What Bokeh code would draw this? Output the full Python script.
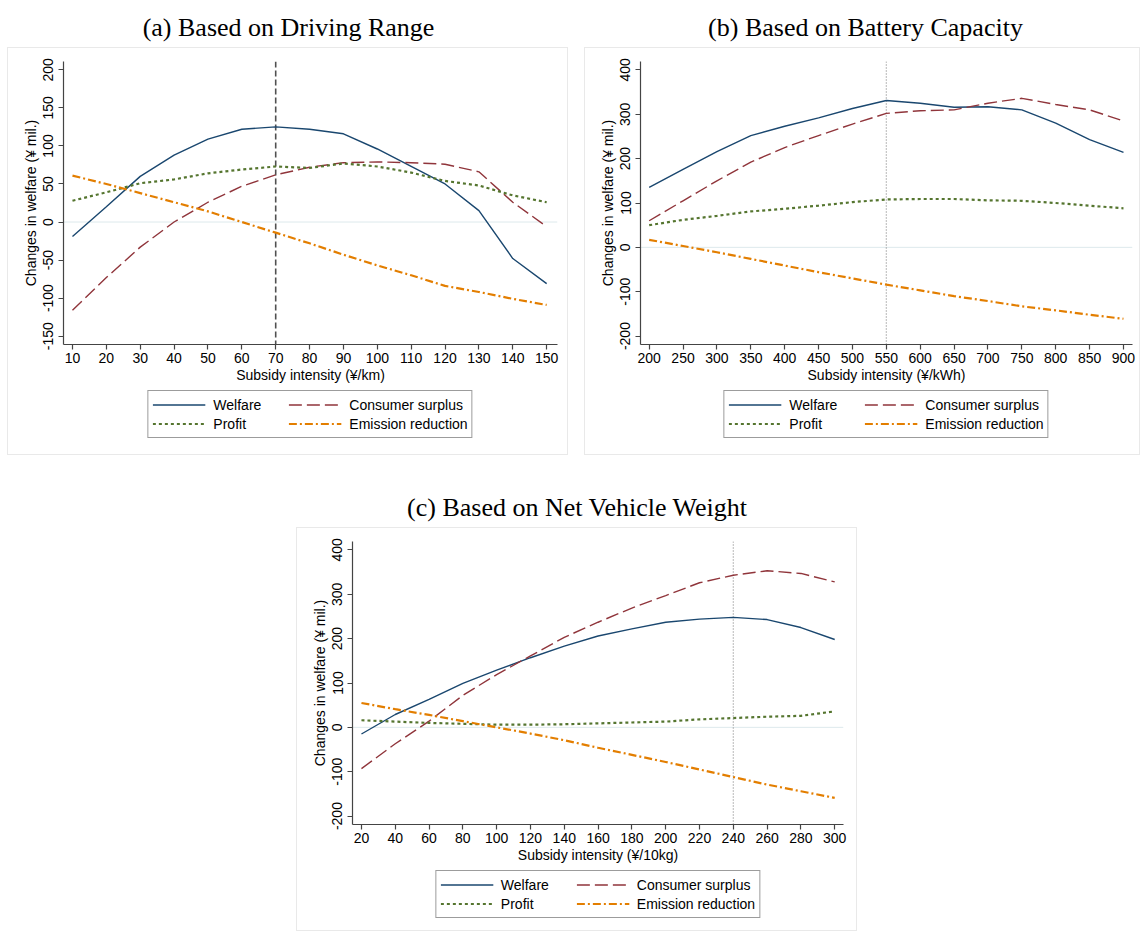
from bokeh.plotting import figure
from bokeh.models import Range1d, FixedTicker, Span, Legend, LegendItem, Spacer, ColumnDataSource
from bokeh.layouts import row, column
from bokeh.core.properties import value
from bokeh.embed import file_html
from bokeh.resources import INLINE

series_names = ["Welfare", "Consumer surplus", "Profit", "Emission reduction"]
titles = ["(a) Based on Driving Range", "(b) Based on Battery Capacity", "(c) Based on Net Vehicle Weight"]
x_labels = ["Subsidy intensity (¥/km)", "Subsidy intensity (¥/kWh)", "Subsidy intensity (¥/10kg)"]
y_label = "Changes in welfare (¥ mil.)"

# Panel (a): driving range
a_x = [10, 20, 30, 40, 50, 60, 70, 80, 90, 100, 110, 120, 130, 140, 150]
a_welfare = [-19, 20, 60, 88, 109, 122, 125, 122, 116, 96, 73, 50, 15, -48, -81]
a_consumer = [-116, -73, -33, 0, 26, 47, 62, 72, 78, 79, 78, 76, 66, 26, -6]
a_profit = [28, 39, 51, 56, 64, 69, 73, 71, 77, 73, 65, 54, 48, 35, 26]
a_emission = [61, 50, 38, 26, 14, 0, -14, -28, -43, -57, -70, -84, -92, -101, -109]
a_optimum = 70

# Panel (b): battery capacity
b_x = [200, 250, 300, 350, 400, 450, 500, 550, 600, 650, 700, 750, 800, 850, 900]
b_welfare = [135, 176, 216, 252, 273, 292, 313, 331, 325, 316, 317, 310, 280, 243, 214]
b_consumer = [60, 105, 150, 192, 225, 252, 278, 302, 308, 310, 325, 336, 322, 310, 285]
b_profit = [50, 62, 71, 81, 87, 94, 102, 108, 109, 109, 106, 105, 100, 94, 88]
b_emission = [17, 3, -11, -26, -41, -56, -70, -84, -97, -110, -121, -133, -142, -152, -161]
b_optimum = 550

# Panel (c): net vehicle weight
c_x = [20, 40, 60, 80, 100, 120, 140, 160, 180, 200, 220, 240, 260, 280, 300]
c_welfare = [-15, 29, 63, 99, 129, 157, 183, 206, 222, 237, 244, 248, 243, 225, 198]
c_consumer = [-93, -37, 14, 72, 119, 161, 203, 237, 269, 297, 326, 343, 353, 347, 328]
c_profit = [16, 13, 10, 8, 6, 6, 7, 9, 11, 13, 18, 21, 24, 26, 36]
c_emission = [55, 41, 28, 14, 0, -14, -29, -46, -62, -78, -95, -112, -129, -144, -159]
c_optimum = 240

a_xticks = list(range(10, 151, 10))
a_yticks = [-150, -100, -50, 0, 50, 100, 150, 200]
b_xticks = list(range(200, 901, 50))
b_yticks = [-200, -100, 0, 100, 200, 300, 400]
c_xticks = list(range(20, 301, 20))
c_yticks = [-200, -100, 0, 100, 200, 300, 400]

COLORS = ["#1a476f", "#90353b", "#55752f", "#e37e00"]
DASHES = ["solid", "13 5", "3 3", "8 3 2 3"]
WIDTHS = [1.4, 1.4, 2.2, 2.2]
KEYS = ["w", "cs", "pr", "em"]
SANS = "Liberation Sans"
AXC = "#444444"


def panel(xs, series, xr, yr, xticks, yticks, xlabel, vline, vdash, vcolor, vwidth,
          fw, bl, br, box_h):
    src = ColumnDataSource(dict(x=xs, w=series[0], cs=series[1], pr=series[2], em=series[3]))

    top_h = 14 + 283 + 42
    p = figure(frame_width=fw, frame_height=283, x_range=Range1d(*xr), y_range=Range1d(*yr),
               output_backend="svg", toolbar_location=None,
               min_border_left=bl, min_border_right=br, min_border_top=14, min_border_bottom=42)
    p.border_fill_color = None
    p.background_fill_color = "white"
    p.outline_line_color = None
    p.xgrid.visible = False
    p.ygrid.visible = False

    p.add_layout(Span(location=0, dimension="width", line_color="#dde9ec", line_width=1, level="underlay"))
    p.add_layout(Span(location=vline, dimension="height", line_color=vcolor, line_width=vwidth,
                      line_dash=vdash, level="underlay"))

    for i, key in enumerate(KEYS):
        p.line("x", key, source=src, line_color=COLORS[i], line_width=WIDTHS[i], line_dash=DASHES[i])

    for ax in (p.xaxis[0], p.yaxis[0]):
        ax.axis_line_color = AXC
        ax.axis_line_width = 1.2
        ax.major_tick_line_color = AXC
        ax.major_tick_line_width = 1.2
        ax.major_tick_out = 5
        ax.major_tick_in = 0
        ax.minor_tick_line_color = None
        ax.major_label_text_font = SANS
        ax.major_label_text_font_size = "14px"
        ax.major_label_text_color = "black"
        ax.axis_label_text_font = SANS
        ax.axis_label_text_font_size = "14px"
        ax.axis_label_text_font_style = "normal"
        ax.axis_label_text_color = "black"
    p.xaxis.ticker = FixedTicker(ticks=xticks)
    p.yaxis.ticker = FixedTicker(ticks=yticks)
    p.yaxis.major_label_overrides = {t: str(t) for t in yticks}
    p.xaxis.axis_label = xlabel
    p.yaxis.axis_label = y_label
    p.yaxis.major_label_orientation = "vertical"
    p.xaxis.major_label_standoff = 3
    p.xaxis.axis_label_standoff = 1
    p.yaxis.major_label_standoff = 5
    p.yaxis.axis_label_standoff = 2

    # legend strip below the plot (same frame alignment)
    lh = box_h - top_h
    lg = figure(frame_width=fw, frame_height=lh, x_range=Range1d(0, 1), y_range=Range1d(0, 1),
                output_backend="svg", toolbar_location=None, x_axis_type=None, y_axis_type=None,
                min_border_left=bl, min_border_right=br, min_border_top=0, min_border_bottom=0)
    lg.border_fill_color = None
    lg.background_fill_color = None
    lg.outline_line_color = None
    lg.xgrid.visible = False
    lg.ygrid.visible = False
    items = []
    for i, key in enumerate(KEYS):
        r = lg.line("x", key, source=src, line_color=COLORS[i], line_width=WIDTHS[i], line_dash=DASHES[i])
        items.append(LegendItem(label=series_names[i], renderers=[r]))
    leg = Legend(items=items, ncols=2, orientation="horizontal", location="top_center")
    leg.label_text_font = SANS
    leg.label_text_font_size = "14px"
    leg.label_text_color = "black"
    leg.glyph_width = 53
    leg.glyph_height = 19
    leg.label_height = 19
    leg.label_width = 75
    leg.label_standoff = 8
    leg.spacing = 0
    leg.padding = 4
    leg.margin = 4
    leg.border_line_color = "#3a3a3a"
    leg.border_line_width = 1.3
    leg.background_fill_color = "white"
    leg.background_fill_alpha = 1
    lg.add_layout(leg, "center")

    box = column(p, lg, styles={"box-shadow": "inset 0 0 0 1px #e9e9e9"})
    return box


def title_fig(height, xs, texts, baseline_from_top):
    t = figure(width=1140, height=height, x_range=Range1d(0, 1140), y_range=Range1d(0, height),
               output_backend="svg", toolbar_location=None, x_axis_type=None, y_axis_type=None,
               min_border=0)
    t.min_border_left = t.min_border_right = t.min_border_top = t.min_border_bottom = 0
    t.outline_line_color = None
    t.border_fill_color = None
    t.background_fill_color = None
    t.xgrid.visible = False
    t.ygrid.visible = False
    t.text(x=xs, y=[height - baseline_from_top] * len(xs), text=texts,
           text_font=value("Liberation Serif"), text_font_size="26px", text_color="black",
           text_align="center", text_baseline="alphabetic")
    return t


fa = panel(a_x, [a_welfare, a_consumer, a_profit, a_emission], (7.35, 153.2), (-161, 211),
           a_xticks, a_yticks, x_labels[0], a_optimum, "6 3", "#505050", 1.6,
           494, 56, 11, 408)
fb = panel(b_x, [b_welfare, b_consumer, b_profit, b_emission], (187.2, 913.3), (-219, 419),
           b_xticks, b_yticks, x_labels[1], b_optimum, "1 2", "#8a8a8a", 1.2,
           492, 56, 8, 408)
fc = panel(c_x, [c_welfare, c_consumer, c_profit, c_emission], (14.7, 305.2), (-219, 419),
           c_xticks, c_yticks, x_labels[2], c_optimum, "1 2", "#8a8a8a", 1.2,
           491, 56, 14, 404)

t1 = title_fig(47, [288, 865], titles[:2], 27)
t2 = title_fig(72, [577], titles[2:], 52)

layout = column(
    t1,
    row(Spacer(width=7, height=408), fa, Spacer(width=16, height=408), fb),
    t2,
    row(Spacer(width=296, height=404), fc),
)

open("out.html", "w").write(file_html(layout, INLINE))
